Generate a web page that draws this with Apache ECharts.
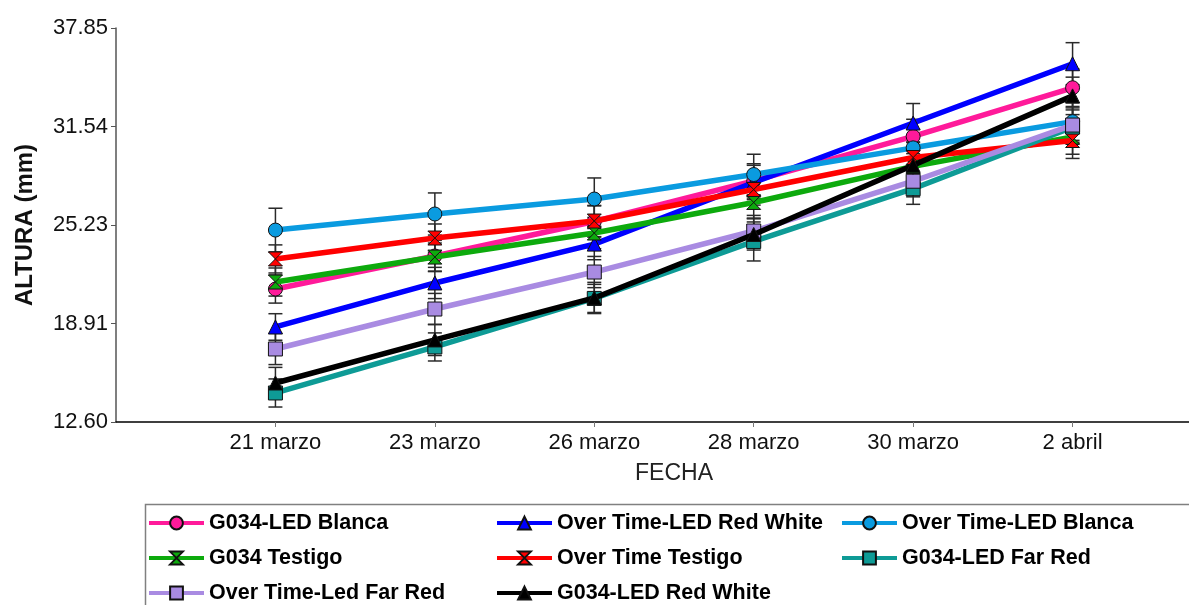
<!DOCTYPE html>
<html>
<head>
<meta charset="utf-8">
<script src="https://cdn.jsdelivr.net/npm/echarts@6/dist/echarts.min.js"></script>
<style>
  html, body { margin: 0; padding: 0; background: #fff; }
  #chart { width: 1189px; height: 605px; }
</style>
</head>
<body>
<div id="chart"></div>
<script>
// Sampling dates (x categories)
const fechas = ['21 marzo', '23 marzo', '26 marzo', '28 marzo', '30 marzo', '2 abril'];

// Y-axis tick labels (mm)
const yTicks = [12.60, 18.91, 25.23, 31.54, 37.85];

// Mean plant height (mm) per treatment
const g034LedBlanca      = [21.12, 23.24, 25.45, 28.05, 30.90, 34.02];
const overLedRedWhite    = [18.69, 21.51, 24.00, 27.95, 31.76, 35.56];
const overLedBlanca      = [24.90, 25.93, 26.89, 28.46, 30.17, 31.85];
const g034Testigo        = [21.57, 23.17, 24.71, 26.67, 28.98, 30.86];
const overTestigo        = [23.05, 24.39, 25.48, 27.50, 29.55, 30.64];
const g034LedFarRed      = [14.46, 17.41, 20.52, 24.17, 27.55, 31.50];
const overLedFarRed      = [17.28, 19.84, 22.21, 24.84, 28.03, 31.63];
const g034LedRedWhite    = [15.10, 17.86, 20.55, 24.62, 29.05, 33.50];

// Error bar half-widths (mm)
const errG034LedBlanca   = [0.9, 1.0, 1.0, 1.1, 1.1, 1.2];
const errOverLedRedWhite = [0.85, 1.0, 1.0, 1.1, 1.25, 1.35];
const errOverLedBlanca   = [1.4, 1.35, 1.35, 1.3, 1.2, 1.2];
const errG034Testigo     = [0.9, 0.9, 1.0, 1.0, 1.0, 1.1];
const errOverTestigo     = [0.9, 0.9, 1.0, 1.0, 1.0, 1.15];
const errG034LedFarRed   = [0.9, 0.9, 0.9, 1.25, 1.0, 1.1];
const errOverLedFarRed   = [1.0, 1.0, 1.0, 1.0, 1.0, 1.1];
const errG034LedRedWhite = [1.0, 1.0, 1.0, 1.0, 1.0, 1.2];

const FONT = 'Liberation Sans, Arial, sans-serif';
const HOURGLASS = 'path://M0,0 L10,0 L0,10 L10,10 Z';

const treatments = [
  { name: 'G034-LED Blanca',         values: g034LedBlanca,   err: errG034LedBlanca,   color: '#FF1A9A', symbol: 'circle' },
  { name: 'Over Time-LED Red White', values: overLedRedWhite, err: errOverLedRedWhite, color: '#0000FF', symbol: 'triangle' },
  { name: 'Over Time-LED Blanca',    values: overLedBlanca,   err: errOverLedBlanca,   color: '#0A9BE0', symbol: 'circle' },
  { name: 'G034 Testigo',            values: g034Testigo,     err: errG034Testigo,     color: '#0DAA0D', symbol: HOURGLASS },
  { name: 'Over Time Testigo',       values: overTestigo,     err: errOverTestigo,     color: '#FF0000', symbol: HOURGLASS },
  { name: 'G034-LED Far Red',        values: g034LedFarRed,   err: errG034LedFarRed,   color: '#0E9B96', symbol: 'rect' },
  { name: 'Over Time-Led Far Red',   values: overLedFarRed,   err: errOverLedFarRed,   color: '#A98BE2', symbol: 'rect' },
  { name: 'G034-LED Red White',      values: g034LedRedWhite, err: errG034LedRedWhite, color: '#000000', symbol: 'triangle' }
];

// Vertical error bar with caps
function renderErrorBar(params, api) {
  const x = api.value(0);
  const top = api.coord([x, api.value(2)]);
  const bot = api.coord([x, api.value(1)]);
  const hw = 7;
  const st = { stroke: '#2a2a2a', lineWidth: 1.5 };
  return {
    type: 'group',
    children: [
      { type: 'line', shape: { x1: top[0], y1: top[1], x2: bot[0], y2: bot[1] }, style: st },
      { type: 'line', shape: { x1: top[0] - hw, y1: top[1], x2: top[0] + hw, y2: top[1] }, style: st },
      { type: 'line', shape: { x1: bot[0] - hw, y1: bot[1], x2: bot[0] + hw, y2: bot[1] }, style: st }
    ]
  };
}

const series = [];
treatments.forEach(function (t) {
  series.push({
    type: 'custom',
    name: t.name + ' (error)',
    renderItem: renderErrorBar,
    z: 1,
    silent: true,
    data: t.values.map(function (v, i) { return [i, v - t.err[i], v + t.err[i]]; })
  });
});
treatments.forEach(function (t, k) {
  series.push({
    type: 'line',
    name: t.name,
    z: 2 + k,
    data: t.values.map(function (v, i) { return [i, v]; }),
    symbol: t.symbol,
    symbolSize: 14,
    showAllSymbol: true,
    lineStyle: { color: t.color, width: 5.5 },
    itemStyle: { color: t.color, borderColor: '#111', borderWidth: 1 },
    animation: false
  });
});

const legendCommon = {
  orient: 'vertical',
  padding: 0,
  height: 120,
  itemWidth: 55,
  itemHeight: 16,
  itemGap: 13,
  lineStyle: { width: 4 },
  textStyle: { fontFamily: FONT, fontSize: 21.5, fontWeight: 'bold', color: '#000', lineHeight: 20 },
  selectedMode: false
};

const chart = echarts.init(document.getElementById('chart'), null, { renderer: 'canvas' });
chart.setOption({
  animation: false,
  backgroundColor: '#fff',
  // plot extends past the right edge of the canvas (x range -1 .. 6)
  grid: { left: 116, top: 28, bottom: 183, width: 1116, outerBoundsMode: 'none', containLabel: false },
  xAxis: {
    type: 'value',
    min: -1,
    max: 6,
    name: 'FECHA',
    nameLocation: 'middle',
    nameGap: 40,
    nameTextStyle: { fontFamily: FONT, fontSize: 23, color: '#222' },
    axisLine: { onZero: false, lineStyle: { color: '#000', width: 1.5 } },
    axisTick: { show: true, inside: false, length: 5, customValues: [0, 1, 2, 3, 4, 5], lineStyle: { color: '#777' } },
    axisLabel: {
      customValues: [0, 1, 2, 3, 4, 5],
      formatter: function (v) { return fechas[Math.round(v)]; },
      fontFamily: FONT, fontSize: 22, color: '#111', margin: 10
    },
    splitLine: { show: false }
  },
  yAxis: {
    type: 'value',
    min: yTicks[0],
    max: yTicks[yTicks.length - 1],
    name: 'ALTURA (mm)',
    nameLocation: 'middle',
    nameGap: 79,
    nameTextStyle: { fontFamily: FONT, fontSize: 24, fontWeight: 'bold', color: '#111' },
    axisLine: { show: true, onZero: false, lineStyle: { color: '#555', width: 1.5 } },
    axisTick: { show: true, inside: false, length: 5, customValues: yTicks, lineStyle: { color: '#555' } },
    axisLabel: {
      customValues: yTicks,
      formatter: function (v) { return v.toFixed(2); },
      fontFamily: FONT, fontSize: 22, color: '#111', margin: 8
    },
    splitLine: { show: false }
  },
  legend: [
    Object.assign({ left: 147, top: 512, data: ['G034-LED Blanca', 'G034 Testigo', 'Over Time-Led Far Red'] }, legendCommon),
    Object.assign({ left: 495, top: 512, data: ['Over Time-LED Red White', 'Over Time Testigo', 'G034-LED Red White'] }, legendCommon),
    Object.assign({ left: 840, top: 512, data: ['Over Time-LED Blanca', 'G034-LED Far Red'] }, legendCommon)
  ],
  graphic: [{
    type: 'rect',
    left: 143,
    top: 502,
    z: -1,
    shape: { x: 0, y: 0, width: 1100, height: 200 },
    style: { fill: 'none', stroke: '#808080', lineWidth: 1.5 }
  }],
  series: series
});
</script>
</body>
</html>
